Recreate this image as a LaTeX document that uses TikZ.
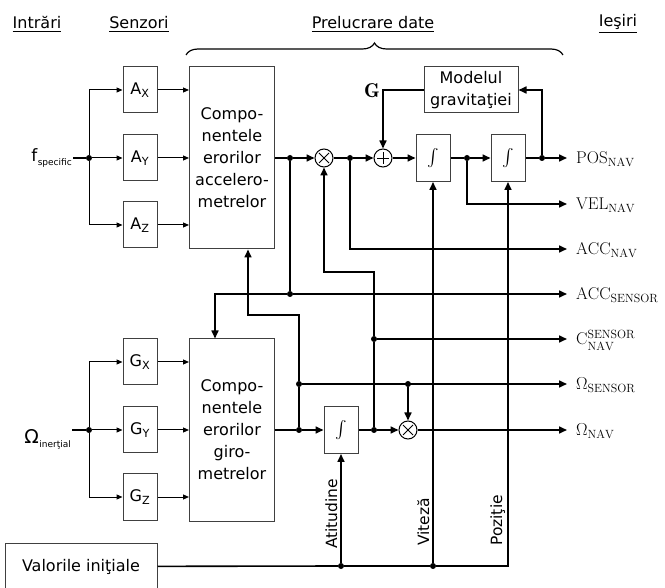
\documentclass[tikz,border=0pt]{standalone}
\usepackage{amsmath}
\usepackage{fontspec}
\setsansfont{DejaVu Sans}
\usetikzlibrary{positioning,arrows.meta,decorations.pathreplacing}

\begin{document}
\begin{tikzpicture}[
  x=1pt, y=-1pt,
  on grid,
  >={Triangle[length=8pt,width=7pt]},
  wire/.style={line width=1.6pt},
  feed/.style={line width=1pt, -{Triangle[length=6pt,width=5pt]}},
  box/.style={draw=black!75, line width=1pt, inner sep=0pt, align=center,
    font=\sffamily\fontsize{16}{22}\selectfont},
  sensor/.style={box, minimum width=34pt, minimum height=46pt},
  block/.style={box, minimum width=85pt, minimum height=182pt},
  integ/.style={box, minimum width=34pt, minimum height=47pt,
    font=\fontsize{16}{18}\selectfont},
  junc/.style={circle, fill, inner sep=0pt, minimum size=6pt},
  op/.style={circle, draw, line width=1pt, minimum size=18pt, inner sep=0pt},
  mulop/.style={op, path picture={\draw[line width=0.8pt]
    ([shift={(-5pt,-5pt)}]path picture bounding box.center) --
    ([shift={(5pt,5pt)}]path picture bounding box.center)
    ([shift={(-5pt,5pt)}]path picture bounding box.center) --
    ([shift={(5pt,-5pt)}]path picture bounding box.center);}},
  sumop/.style={op, path picture={\draw[line width=0.8pt]
    ([shift={(-6pt,0pt)}]path picture bounding box.center) --
    ([shift={(6pt,0pt)}]path picture bounding box.center)
    ([shift={(0pt,6pt)}]path picture bounding box.center) --
    ([shift={(0pt,-6pt)}]path picture bounding box.center);}},
  outlbl/.style={anchor=west, inner xsep=9pt, inner ysep=0pt,
    text height=14pt, text depth=2.4pt, font=\fontsize{17}{20}\selectfont},
  heading/.style={font=\sffamily\fontsize{16}{18}\selectfont},
  inlbl/.style={anchor=east, inner sep=1pt, font=\sffamily\fontsize{17}{18}\selectfont},
  vlabel/.style={rotate=90, anchor=base west, inner sep=0pt,
    font=\sffamily\fontsize{15.5}{18}\selectfont}
]
  \useasboundingbox (0,0) rectangle (665,588);

  % column titles
  \node[heading] (tin)   at (37,24)  {\underline{Intrări}};
  \node[heading] (tsen)  at (139,24) {\underline{Senzori}};
  \node[heading] (tproc) at (373,24) {\underline{Prelucrare date}};
  \node[heading] (tout)  at (618,24) {\underline{Ieşiri}};
  \draw[decorate, decoration={brace, amplitude=12pt}, line width=1.2pt]
    (186,55) -- (563,55);

  % accelerometers
  \node[inlbl] (fsp) at (73,158)
    {f\kern0.5pt\raisebox{-4pt}{\fontsize{9}{10}\selectfont specific}};
  \node[junc] (jf) at (89,158) {};
  \node[sensor] (ay) at (140,158) {A\textsubscript{Y}};
  \node[sensor, above=68pt of ay] (ax) {A\textsubscript{X}};
  \node[sensor, below=67pt of ay] (az) {A\textsubscript{Z}};
  \node[block] (acc) at (232,158)
    {Compo-\\nentele\\erorilor\\accelero-\\metrelor};

  % gyroscopes
  \node[inlbl] (omi) at (72,439)
    {\fontsize{19}{20}\selectfont Ω\kern0.5pt\raisebox{-4pt}{\fontsize{9}{10}\selectfont inerţial}};
  \node[junc] (jo) at (89,430) {};
  \node[sensor] (gy) at (140,430) {G\textsubscript{Y}};
  \node[sensor, above=68pt of gy] (gx) {G\textsubscript{X}};
  \node[sensor, below=67pt of gy] (gz) {G\textsubscript{Z}};
  \node[block] (gyro) at (232,430)
    {Compo-\\nentele\\erorilor\\giro-\\metrelor};

  \node[box, minimum width=152pt, minimum height=47pt] (init) at (81,566.5)
    {Valorile iniţiale};

  % processing
  \node[junc] (j1) at (290,158) {};
  \node[mulop] (m1) at (324,158) {};
  \node[junc] (j2) at (350,158) {};
  \node[sumop] (s1) at (383,158) {};
  \node[integ] (i1) at (433,158) {$\int$};
  \node[junc] (j3) at (467,158) {};
  \node[integ] (i2) at (508,158) {$\int$};
  \node[junc] (j4) at (542,158) {};
  \node[box, minimum width=94pt, minimum height=46pt] (grav) at (471,90)
    {Modelul\\gravitaţiei};
  \node[font=\fontsize{20}{20}\selectfont] (gsym) at (372,91) {$\mathbf{G}$};

  \node[junc] (j5) at (290,294) {};
  \node[junc] (j7) at (374,339) {};
  \node[junc] (j8) at (299,384) {};
  \node[junc] (j9) at (408,384) {};
  \node[junc] (j10) at (299,430) {};
  \node[integ] (i3) at (341,430) {$\int$};
  \node[junc] (j6) at (374,430) {};
  \node[mulop] (m2) at (408,430) {};
  \node[junc] (j11) at (341,566) {};
  \node[junc] (j12) at (433,566) {};

  % outputs
  \node[outlbl] (pos)  at (567,158) {$\mathrm{POS}_{\mathrm{NAV}}$};
  \node[outlbl] (vel)  at (567,204) {$\mathrm{VEL}_{\mathrm{NAV}}$};
  \node[outlbl] (accn) at (567,249) {$\mathrm{ACC}_{\mathrm{NAV}}$};
  \node[outlbl] (accs) at (567,294) {$\mathrm{ACC}_{\mathrm{SENSOR}}$};
  \node[outlbl] (cns)  at (567,339) {$\mathrm{C}_{\mathrm{NAV}}^{\mathrm{SENSOR}}$};
  \node[outlbl] (oms)  at (567,384) {$\Omega_{\mathrm{SENSOR}}$};
  \node[outlbl] (omn)  at (567,430) {$\Omega_{\mathrm{NAV}}$};

  \node[vlabel] (latt) at (337,549) {Atitudine};
  \node[vlabel] (lvit) at (429,546) {Viteză};
  \node[vlabel] (lpoz) at (502,546) {Poziţie};

  % sensor inputs
  \draw[wire] (fsp.east |- jf) -- (jf);
  \draw[feed] (jf) |- (ax);
  \draw[feed] (jf) -- (ay);
  \draw[feed] (jf) |- (az);
  \draw[feed] (ax) -- (ax -| acc.west);
  \draw[feed] (ay) -- (ay -| acc.west);
  \draw[feed] (az) -- (az -| acc.west);
  \draw[wire] (omi.east |- jo) -- (jo);
  \draw[feed] (jo) |- (gx);
  \draw[feed] (jo) -- (gy);
  \draw[feed] (jo) |- (gz);
  \draw[feed] (gx) -- (gx -| gyro.west);
  \draw[feed] (gy) -- (gy -| gyro.west);
  \draw[feed] (gz) -- (gz -| gyro.west);

  % acceleration chain
  \draw[wire] (acc) -- (j1);
  \draw[wire,->] (j1) -- (m1);
  \draw[wire] (m1) -- (j2);
  \draw[wire,->] (j2) -- (s1);
  \draw[wire,->] (s1) -- (i1);
  \draw[wire] (i1) -- (j3);
  \draw[wire,->] (j3) -- (i2);
  \draw[wire] (i2) -- (j4);
  \draw[wire,->] (j4) -- (pos);
  \draw[wire,->] (j4) |- (grav);
  \draw[wire,->] (grav) -| (s1);
  \draw[wire,->] (j3) |- (vel);
  \draw[wire,->] (j2) |- (accn);
  \draw[wire] (j1) -- (j5);
  \draw[wire,->] (j5) -- (accs);
  \draw[wire,->] (j5) -| ([xshift=-17pt]gyro.north);

  % attitude chain
  \draw[wire] (gyro) -- (j10);
  \draw[wire,->] (j10) -- (i3);
  \draw[wire] (i3) -- (j6);
  \draw[wire,->] (j6) -- (m2);
  \draw[wire,->] (m2) -- (omn);
  \draw[wire] (j10) -- (j8);
  \draw[wire,->] (j8) -- ++(0,-69) -| ([xshift=16pt]acc.south);
  \draw[wire,->] (j8) -- (oms);
  \draw[wire,->] (j9) -- (m2);
  \draw[wire] (j6) -- (j7);
  \draw[wire,->] (j7) -- (cns);
  \draw[wire,->] (j7) -- ++(0,-67) -| (m1);

  % initial values
  \draw[wire] (init) -- (j11);
  \draw[wire] (j11) -- (j12);
  \draw[wire,->] (j12) -| (i2);
  \draw[wire,->] (j11) -- (i3);
  \draw[wire,->] (j12) -- (i1);
\end{tikzpicture}
\end{document}
